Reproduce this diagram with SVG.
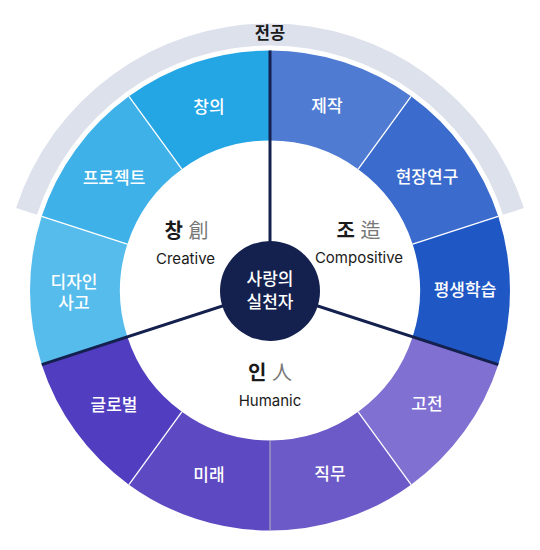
<svg xmlns="http://www.w3.org/2000/svg" width="540" height="550" viewBox="0 0 540 550">
<style>
.seg-label{font-family:"Inter","Noto Sans CJK KR",sans-serif;font-size:17px;font-weight:500;fill:#ffffff;text-anchor:middle;dominant-baseline:central}
.kor{font-family:"Inter","Noto Sans CJK KR",sans-serif;font-size:20px;text-anchor:middle;dominant-baseline:central}
.kor .b{font-weight:700;fill:#1a1a1a}
.kor .h{font-weight:400;fill:#777777}
.eng{font-family:"Inter","Liberation Sans",sans-serif;font-size:15px;fill:#1a1a1a;text-anchor:middle;dominant-baseline:central}
.thin{stroke:#ffffff;stroke-width:1.3;fill:none}
.dark{stroke:#14204d;stroke-width:3;fill:none}
</style>
<rect width="540" height="550" fill="#ffffff"/>
<g id="major-arc">
<path d="M 16.07 207.99 A 267 267 0 0 1 523.93 207.99 L 503.01 214.79 A 245 245 0 0 0 36.99 214.79 Z" fill="#dde1ec"/>
<text x="270" y="33" font-family="Inter,'Noto Sans CJK KR',sans-serif" font-size="16.5" font-weight="700" fill="#1a1a1a" text-anchor="middle" dominant-baseline="central">전공</text>
</g>
<g id="seg-jejak">
<path d="M 270 50.5 A 240 240 0 0 1 411.07 96.34 L 358.17 169.15 A 150 150 0 0 0 270 140.5 Z" fill="#4f7bd3"/>
<text class="seg-label" x="327" y="106">제작</text>
</g>
<g id="seg-hyeonjang">
<path d="M 411.07 96.34 A 240 240 0 0 1 498.25 216.34 L 412.66 244.15 A 150 150 0 0 0 358.17 169.15 Z" fill="#3b6bcd"/>
<text class="seg-label" x="427" y="177">현장연구</text>
</g>
<g id="seg-pyeongsaeng">
<path d="M 498.25 216.34 A 240 240 0 0 1 498.25 364.66 L 412.66 336.85 A 150 150 0 0 0 412.66 244.15 Z" fill="#1f58c5"/>
<text class="seg-label" x="465" y="290">평생학습</text>
</g>
<g id="seg-gojeon">
<path d="M 498.25 364.66 A 240 240 0 0 1 411.07 484.66 L 358.17 411.85 A 150 150 0 0 0 412.66 336.85 Z" fill="#8070d2"/>
<text class="seg-label" x="427" y="404">고전</text>
</g>
<g id="seg-jikmu">
<path d="M 411.07 484.66 A 240 240 0 0 1 270 530.5 L 270 440.5 A 150 150 0 0 0 358.17 411.85 Z" fill="#6b5ac8"/>
<text class="seg-label" x="330" y="474">직무</text>
</g>
<g id="seg-mirae">
<path d="M 270 530.5 A 240 240 0 0 1 128.93 484.66 L 181.83 411.85 A 150 150 0 0 0 270 440.5 Z" fill="#5d49c2"/>
<text class="seg-label" x="209" y="475">미래</text>
</g>
<g id="seg-global">
<path d="M 128.93 484.66 A 240 240 0 0 1 41.75 364.66 L 127.34 336.85 A 150 150 0 0 0 181.83 411.85 Z" fill="#503dbf"/>
<text class="seg-label" x="114" y="405">글로벌</text>
</g>
<g id="seg-design">
<path d="M 41.75 364.66 A 240 240 0 0 1 41.75 216.34 L 127.34 244.15 A 150 150 0 0 0 127.34 336.85 Z" fill="#56bcec"/>
<text class="seg-label" x="74" y="282">디자인</text>
<text class="seg-label" x="74" y="303">사고</text>
</g>
<g id="seg-project">
<path d="M 41.75 216.34 A 240 240 0 0 1 128.93 96.34 L 181.83 169.15 A 150 150 0 0 0 127.34 244.15 Z" fill="#3db1e8"/>
<text class="seg-label" x="114" y="178">프로젝트</text>
</g>
<g id="seg-changui">
<path d="M 128.93 96.34 A 240 240 0 0 1 270 50.5 L 270 140.5 A 150 150 0 0 0 181.83 169.15 Z" fill="#24a6e5"/>
<text class="seg-label" x="209" y="107">창의</text>
</g>
<g id="connectors">
<line class="thin" x1="411.07" y1="96.34" x2="358.17" y2="169.15"/>
<line class="thin" x1="498.25" y1="216.34" x2="412.66" y2="244.15"/>
<line class="thin" x1="411.07" y1="484.66" x2="358.17" y2="411.85"/>
<line x1="270" y1="530.5" x2="270" y2="440.5" stroke="#a9a9bd" stroke-width="1.2"/>
<line class="thin" x1="128.93" y1="484.66" x2="181.83" y2="411.85"/>
<line class="thin" x1="41.75" y1="216.34" x2="127.34" y2="244.15"/>
<line class="thin" x1="128.93" y1="96.34" x2="181.83" y2="169.15"/>
<line class="dark" x1="270" y1="290.5" x2="270" y2="50.5"/>
<line class="dark" x1="270" y1="290.5" x2="498.25" y2="364.66"/>
<line class="dark" x1="270" y1="290.5" x2="41.75" y2="364.66"/>
</g>
<g id="creative">
<text class="kor" x="186.5" y="231"><tspan class="b">창</tspan> <tspan class="h">創</tspan></text>
<text class="eng" x="185.5" y="258">Creative</text>
</g>
<g id="compositive">
<text class="kor" x="358.5" y="231"><tspan class="b">조</tspan> <tspan class="h">造</tspan></text>
<text class="eng" x="359" y="257">Compositive</text>
</g>
<g id="humanic">
<text class="kor" x="270" y="373"><tspan class="b">인</tspan> <tspan class="h">人</tspan></text>
<text class="eng" x="270" y="400">Humanic</text>
</g>
<g id="center">
<circle cx="270" cy="291" r="50" fill="#14204d"/>
<text class="seg-label" x="270" y="279">사랑의</text>
<text class="seg-label" x="270" y="302">실천자</text>
</g>
</svg>
